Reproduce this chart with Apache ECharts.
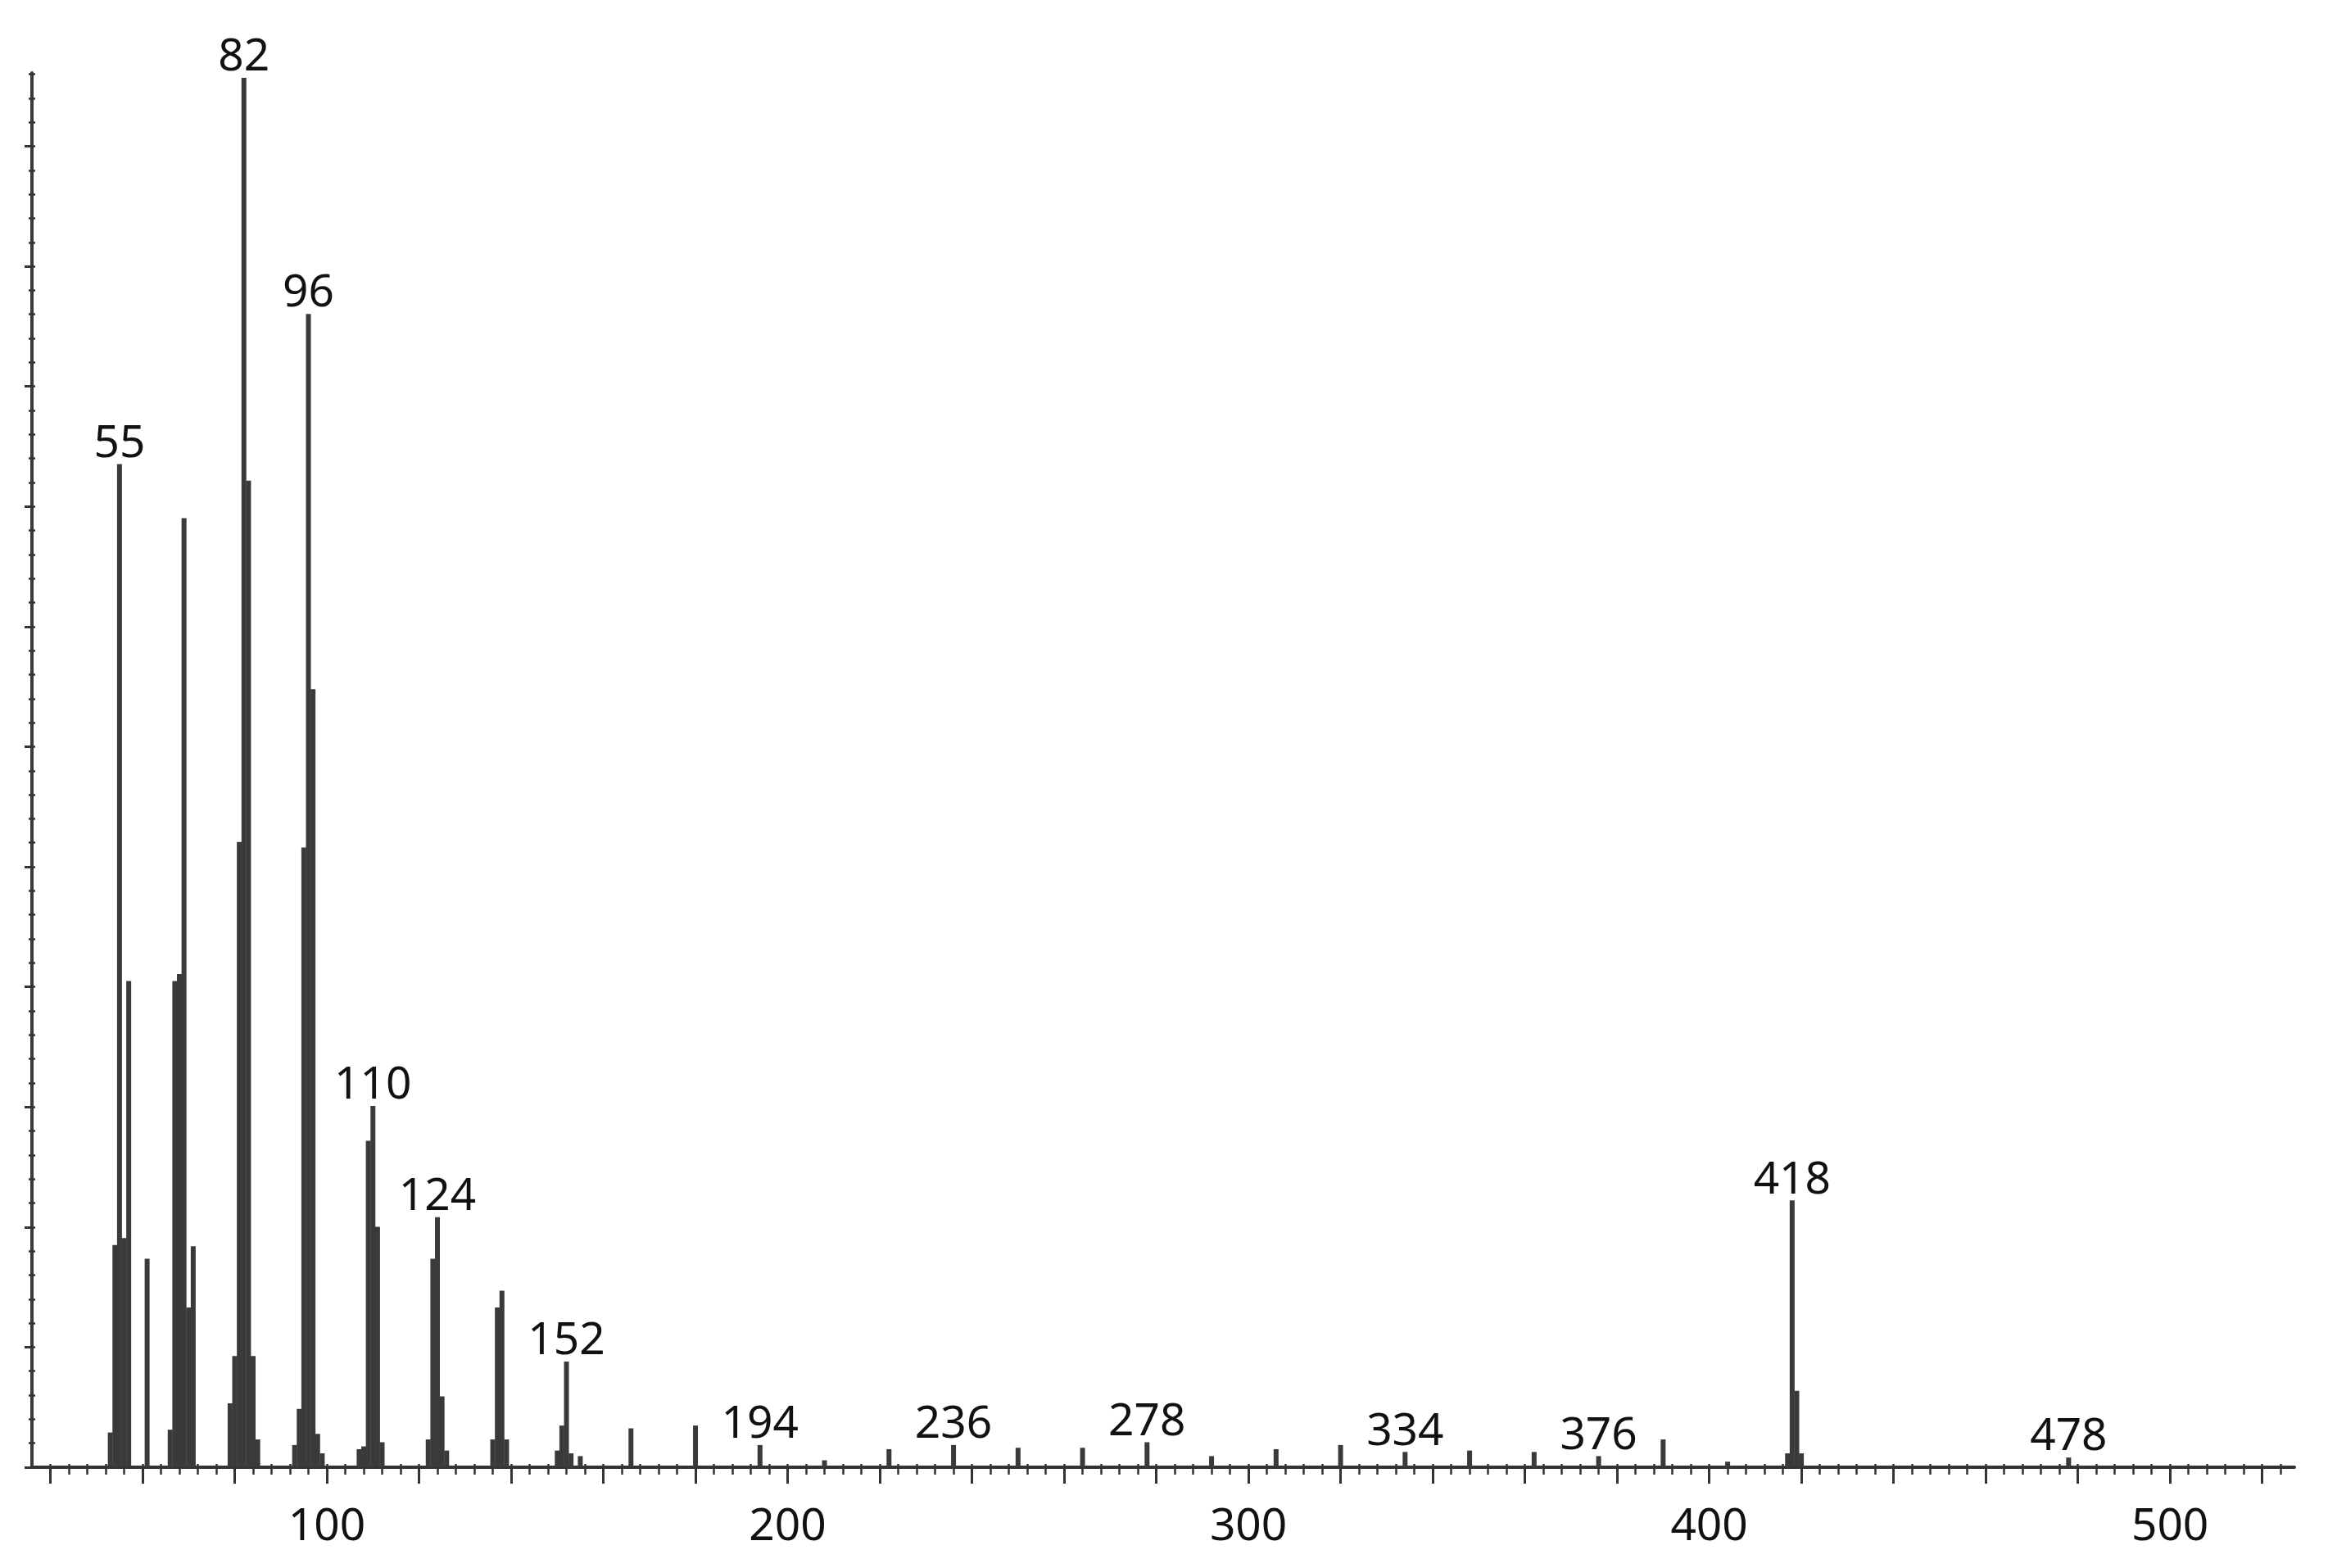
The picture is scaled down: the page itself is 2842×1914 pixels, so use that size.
<!DOCTYPE html>
<html>
<head>
<meta charset="utf-8">
<script src="https://cdn.jsdelivr.net/npm/echarts@6/dist/echarts.min.js"></script>
<style>
html,body{margin:0;padding:0;background:#ffffff;}
#chart{width:2842px;height:1914px;}
</style>
</head>
<body>
<div id="chart"></div>
<script>
// m/z values of the drawn peaks
const mz = [
  53, 54, 55, 56, 57,
  61,
  66, 67, 68, 69, 70, 71,
  79, 80, 81, 82, 83, 84, 85,
  93, 94, 95, 96, 97, 98, 99,
  107, 108, 109, 110, 111, 112,
  122, 123, 124, 125, 126,
  136, 137, 138, 139,
  150, 151, 152, 153, 155,
  166, 180, 194, 208, 222, 236, 250, 264, 278, 292, 306, 320, 334, 348, 362, 376, 390, 404,
  417, 418, 419, 420,
  478
];
// relative intensity (%) of each peak
const intensity = [
  2.5, 16, 72.2, 16.5, 35,
  15,
  2.7, 35, 35.5, 68.3, 11.5, 15.9,
  4.6, 8, 45, 100, 71, 8, 2,
  1.6, 4.2, 44.6, 83, 56, 2.4, 1,
  1.3, 1.5, 23.5, 26, 17.3, 1.8,
  2, 15, 18, 5.1, 1.2,
  2, 11.5, 12.7, 2,
  1.2, 3, 7.6, 1, 0.8,
  2.8, 3.0, 1.6, 0.5, 1.3, 1.6, 1.4, 1.4, 1.8, 0.8, 1.3, 1.6, 1.1, 1.2, 1.1, 0.8, 2.0, 0.4,
  1, 19.2, 5.5, 1,
  0.7
];
// peaks carrying an m/z label
const labeledMz = [55, 82, 96, 110, 124, 152, 194, 236, 278, 334, 376, 418, 478];
// x tick labels
const xTickLabels = [100, 200, 300, 400, 500];

const X_MIN = 36, X_MAX = 527, Y_MAX = 100.35;
const majorTicks = []; for (let v = 40; v <= 520; v += 20) majorTicks.push(v);
const minorTicks = []; for (let v = 40; v <= 524; v += 4) minorTicks.push(v);
const yStep = 100 / 11.57 / 5;
const yMinor = []; for (let k = 0; k * yStep <= Y_MAX; k++) yMinor.push(+(k * yStep).toFixed(4));
const yMajor = []; for (let k = 0; k * yStep * 5 <= Y_MAX; k++) yMajor.push(+(k * yStep * 5).toFixed(4));

const FONT = '"Noto Sans", "Open Sans", sans-serif';
const INK = '#111111';
const AXIS = '#333333';

const chart = echarts.init(document.getElementById('chart'), null, {renderer: 'canvas'});

function xAxisBase(extra) {
  return Object.assign({
    type: 'value', min: X_MIN, max: X_MAX, position: 'bottom', offset: 0,
    splitLine: {show: false}, axisPointer: {show: false}
  }, extra);
}
function yAxisBase(extra) {
  return Object.assign({
    type: 'value', min: 0, max: Y_MAX, position: 'left', offset: 0,
    splitLine: {show: false}, axisLabel: {show: false}
  }, extra);
}

const seriesData = mz.map((m, i) => ({
  value: [m, intensity[i]],
  label: {show: labeledMz.indexOf(m) >= 0}
}));

chart.setOption({
  backgroundColor: '#ffffff',
  animation: false,
  grid: {left: 39, right: 41, top: 89, bottom: 123, containLabel: false},
  xAxis: [
    xAxisBase({
      axisLine: {show: true, lineStyle: {color: AXIS, width: 4}},
      axisTick: {show: true, inside: false, length: 20, customValues: majorTicks,
                 lineStyle: {color: AXIS, width: 3}},
      axisLabel: {show: true, customValues: xTickLabels, margin: 46,
                  fontFamily: FONT, fontSize: 55, color: INK}
    }),
    xAxisBase({
      axisLine: {show: false},
      axisTick: {show: true, inside: false, length: 9, customValues: minorTicks,
                 lineStyle: {color: AXIS, width: 2.5}},
      axisLabel: {show: false}
    }),
    xAxisBase({
      axisLine: {show: false},
      axisTick: {show: true, inside: true, length: 4, customValues: minorTicks,
                 lineStyle: {color: AXIS, width: 2.5}},
      axisLabel: {show: false}
    })
  ],
  yAxis: [
    yAxisBase({
      axisLine: {show: true, lineStyle: {color: '#3a3a3a', width: 4}},
      axisTick: {show: true, inside: false, length: 9, customValues: yMajor,
                 lineStyle: {color: AXIS, width: 3}}
    }),
    yAxisBase({
      axisLine: {show: false},
      axisTick: {show: true, inside: false, length: 4, customValues: yMinor,
                 lineStyle: {color: AXIS, width: 2.5}}
    }),
    yAxisBase({
      axisLine: {show: false},
      axisTick: {show: true, inside: true, length: 4, customValues: yMinor,
                 lineStyle: {color: AXIS, width: 2.5}}
    })
  ],
  series: [{
    type: 'bar',
    xAxisIndex: 0,
    yAxisIndex: 0,
    barWidth: 6,
    data: seriesData,
    itemStyle: {color: '#3a3a3a'},
    label: {
      show: false,
      position: 'top',
      distance: -3,
      fontFamily: FONT,
      fontSize: 55,
      lineHeight: 55,
      color: INK,
      formatter: p => String(p.value[0])
    },
    emphasis: {disabled: true}
  }]
});
</script>
</body>
</html>
